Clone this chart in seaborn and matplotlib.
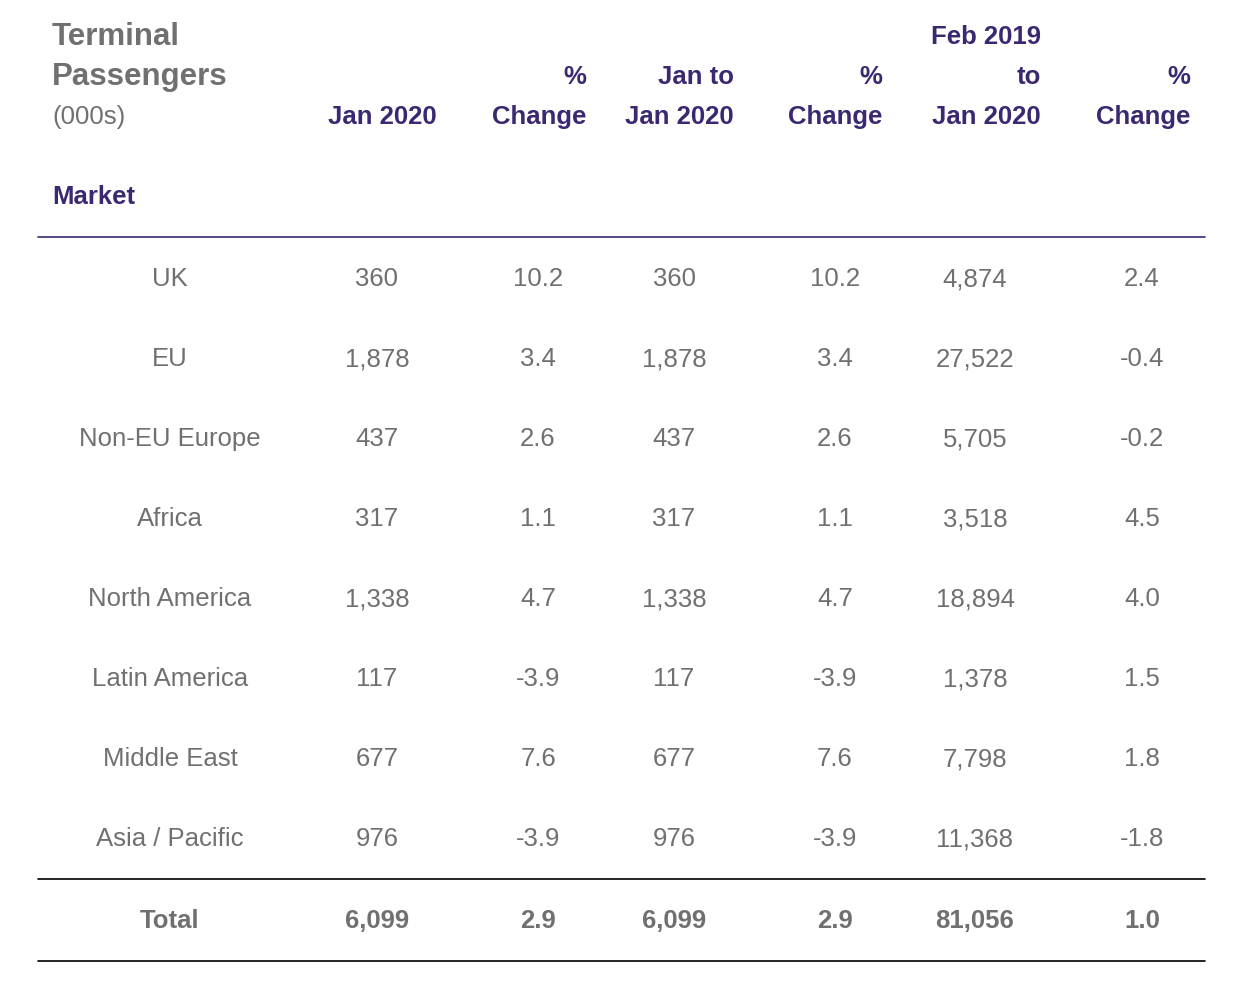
#import packages------------------------------------------------------------------------
import pandas as pd
import numpy as np
import matplotlib.pyplot as plt
import seaborn as sns

sns.set_style('white')
plt.rcParams['font.family'] = ['Liberation Sans', 'DejaVu Sans']

grey = '#707070'
purple = '#3b2870'

#데이터
df = pd.DataFrame({
    'Market': ['UK', 'EU', 'Non-EU Europe', 'Africa', 'North America', 'Latin America', 'Middle East', 'Asia / Pacific'],
    'Jan 2020': ['360', '1,878', '437', '317', '1,338', '117', '677', '976'],
    'chg1': ['10.2', '3.4', '2.6', '1.1', '4.7', '-3.9', '7.6', '-3.9'],
    'Jan to Jan 2020': ['360', '1,878', '437', '317', '1,338', '117', '677', '976'],
    'chg2': ['10.2', '3.4', '2.6', '1.1', '4.7', '-3.9', '7.6', '-3.9'],
    'Feb 2019 to Jan 2020': ['4,874', '27,522', '5,705', '3,518', '18,894', '1,378', '7,798', '11,368'],
    'chg3': ['2.4', '-0.4', '-0.2', '4.5', '4.0', '1.5', '1.8', '-1.8'],
})
total = ['Total', '6,099', '2.9', '6,099', '2.9', '81,056', '1.0']

col_x = [170, 377, 538, 674, 835, 975, 1142]  # 값 중앙
head_x = [437, 586, 734, 882, 1041, 1190]  # 헤더 오른쪽 끝
headers = [['', '', 'Jan 2020'], ['', '%', 'Change'], ['', 'Jan to', 'Jan 2020'],
           ['', '%', 'Change'], ['Feb 2019', 'to', 'Jan 2020'], ['', '%', 'Change']]
head_y = [37, 77, 117]

fig = plt.figure(figsize=(12.48, 9.88), dpi=100)
ax = fig.add_axes([0, 0, 1, 1])
ax.set_xlim(0, 1248)
ax.set_ylim(988, 0)
ax.axis('off')

# 헤더
ax.text(52, 37, 'Terminal', color=grey, fontsize=22.5, fontweight='bold', va='center')
ax.text(52, 77, 'Passengers', color=grey, fontsize=22.5, fontweight='bold', va='center')
ax.text(52, 117, '(000s)', color=grey, fontsize=18.5, va='center')
ax.text(52, 197, 'Market', color=purple, fontsize=18.5, fontweight='bold', va='center')
for x, lines in zip(head_x, headers):
    for y, t in zip(head_y, lines):
        ax.text(x, y, t, color=purple, fontsize=18.5, fontweight='bold', ha='right', va='center')

# 본문
for i, row in enumerate(df.itertuples(index=False)):
    y = 279 + 80 * i
    for x, v in zip(col_x, row):
        ax.text(x, y, v, color=grey, fontsize=18.5, ha='center', va='center')
for x, v in zip(col_x, total):
    ax.text(x, 921, v, color=grey, fontsize=18.5, fontweight='bold', ha='center', va='center')

# 선
ax.plot([38, 1205], [237, 237], color=purple, lw=1.2)
ax.plot([38, 1205], [879, 879], color='black', lw=1.2)
ax.plot([38, 1205], [961, 961], color='black', lw=1.2)

plt.savefig('out.png', dpi=100)
